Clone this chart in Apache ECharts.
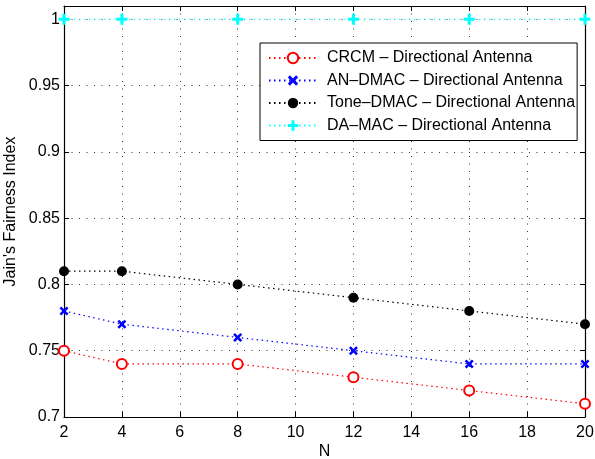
<!DOCTYPE html>
<html>
<head>
<meta charset="utf-8">
<script src="https://cdn.jsdelivr.net/npm/echarts@6/dist/echarts.min.js"></script>
<style>
  html, body { margin: 0; padding: 0; background: #fff; }
  #chart { width: 595px; height: 459px; }
</style>
</head>
<body>
<div id="chart"></div>
<script>
// Number of nodes on the x axis
const nValues = [2, 4, 8, 12, 16, 20];

// Jain's fairness index per protocol
const crcm     = [0.75, 0.74, 0.74, 0.73, 0.72, 0.71];
const anDmac   = [0.78, 0.77, 0.76, 0.75, 0.74, 0.74];
const toneDmac = [0.81, 0.81, 0.80, 0.79, 0.78, 0.77];
const daMac    = [1, 1, 1, 1, 1, 1];

const seriesNames = [
  'CRCM \u2013 Directional Antenna',
  'AN\u2013DMAC \u2013 Directional Antenna',
  'Tone\u2013DMAC \u2013 Directional Antenna',
  'DA\u2013MAC \u2013 Directional Antenna'
];

const FONT = '"Liberation Sans", Arial, Helvetica, sans-serif';
const crossPath = 'path://M2,0 L5,3 L8,0 L10,2 L7,5 L10,8 L8,10 L5,7 L2,10 L0,8 L3,5 L0,2 Z';
const plusPath = 'path://M3.6,0 H6.4 V3.6 H10 V6.4 H6.4 V10 H3.6 V6.4 H0 V3.6 H3.6 Z';

function pairs(ys) { return nValues.map((x, i) => [x, ys[i]]); }

function lineSeries(name, ys, color, symbol, size, extra) {
  return Object.assign({
    name: name,
    type: 'line',
    data: pairs(ys),
    symbol: symbol,
    symbolSize: size,
    showAllSymbol: true,
    xAxisIndex: 0,
    yAxisIndex: 0,
    lineStyle: { color: color, width: 1.2, type: [1.5, 3.5] },
    itemStyle: { color: color },
    emphasis: { disabled: true },
    animation: false
  }, extra || {});
}

const gridLine = { show: true, lineStyle: { color: '#333', width: 1, type: [1, 6.5] } };
const axisLine = { show: true, onZero: false, lineStyle: { color: '#000', width: 1.2 } };
const tickIn = { show: true, inside: true, length: 5, lineStyle: { color: '#000' } };

const chart = echarts.init(document.getElementById('chart'), null, { renderer: 'canvas' });
chart.setOption({
  backgroundColor: '#fff',
  animation: false,
  grid: {
    left: 64, right: 10, top: 6, bottom: 42,
    show: false, containLabel: false, outerBoundsMode: 'none'
  },
  legend: {
    data: seriesNames,
    left: 260,
    top: 43,
    orient: 'vertical',
    backgroundColor: '#fff',
    borderColor: '#000',
    borderWidth: 1,
    padding: [6, 2, 6, 8],
    itemWidth: 48,
    itemHeight: 13,
    itemGap: 4.5,
    textStyle: { fontFamily: FONT, fontSize: 16, lineHeight: 18, color: '#000', padding: [0, 0, 0, 5] }
  },
  xAxis: [{
    type: 'value',
    min: 2, max: 20, interval: 2,
    name: 'N',
    nameLocation: 'middle',
    nameGap: 27,
    nameMoveOverlap: false,
    nameTextStyle: { fontFamily: FONT, fontSize: 16, color: '#000' },
    axisLine: axisLine,
    axisTick: tickIn,
    axisLabel: { fontFamily: FONT, fontSize: 16, color: '#000', margin: 8 },
    splitLine: gridLine
  }, {
    type: 'value',
    position: 'top',
    min: 2, max: 20, interval: 2,
    axisLine: axisLine,
    axisTick: tickIn,
    axisLabel: { show: false },
    splitLine: { show: false }
  }],
  yAxis: [{
    type: 'value',
    min: 0.7, max: 1.01, interval: 0.05,
    name: "Jain's Fairness Index",
    nameLocation: 'middle',
    nameGap: 45,
    nameMoveOverlap: false,
    nameTextStyle: { fontFamily: FONT, fontSize: 16, color: '#000' },
    axisLine: axisLine,
    axisTick: tickIn,
    axisLabel: { fontFamily: FONT, fontSize: 16, color: '#000', margin: 4, showMaxLabel: false },
    splitLine: gridLine
  }, {
    type: 'value',
    position: 'right',
    min: 0.7, max: 1.01, interval: 0.05,
    axisLine: axisLine,
    axisTick: tickIn,
    axisLabel: { show: false },
    splitLine: { show: false }
  }],
  series: [
    lineSeries(seriesNames[0], crcm, '#ff0000', 'emptyCircle', 10,
      { itemStyle: { color: '#ff0000', borderWidth: 2.8 } }),
    lineSeries(seriesNames[1], anDmac, '#0000ff', crossPath, 9),
    lineSeries(seriesNames[2], toneDmac, '#000000', 'circle', 10),
    lineSeries(seriesNames[3], daMac, '#00ffff', plusPath, 11)
  ]
});
</script>
</body>
</html>
